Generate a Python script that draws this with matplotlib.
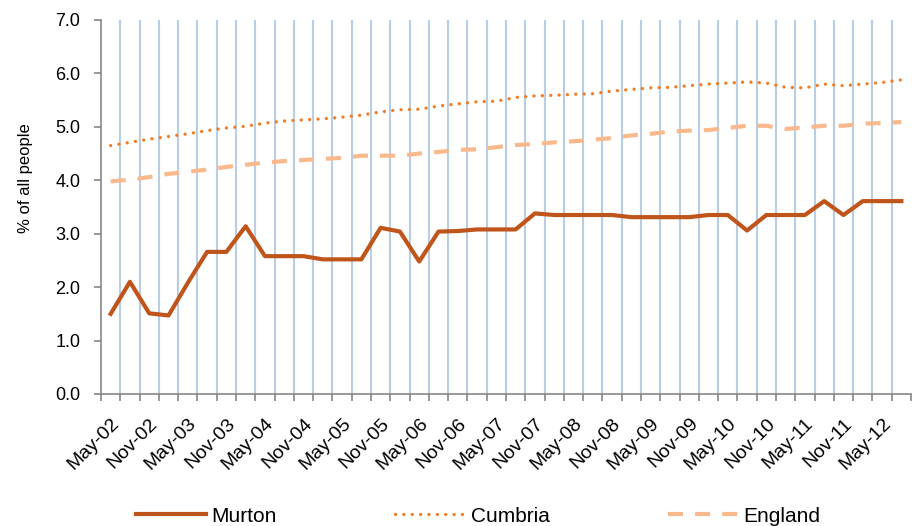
import numpy as np
import matplotlib
matplotlib.use('Agg')
import matplotlib.pyplot as plt

plt.rcParams['font.family'] = ['Liberation Sans', 'DejaVu Sans']

# quarterly, May-02 .. Aug-12
labels = ['May-02', 'Nov-02', 'May-03', 'Nov-03', 'May-04', 'Nov-04', 'May-05',
          'Nov-05', 'May-06', 'Nov-06', 'May-07', 'Nov-07', 'May-08', 'Nov-08',
          'May-09', 'Nov-09', 'May-10', 'Nov-10', 'May-11', 'Nov-11', 'May-12']

murton = [1.50, 2.10, 1.51, 1.47, 2.08, 2.66, 2.66, 3.14, 2.58, 2.58,
          2.58, 2.52, 2.52, 2.52, 3.11, 3.04, 2.48, 3.04, 3.05, 3.08,
          3.08, 3.08, 3.38, 3.35, 3.35, 3.35, 3.35, 3.31, 3.31, 3.31,
          3.31, 3.35, 3.35, 3.06, 3.35, 3.35, 3.35, 3.61, 3.35, 3.61,
          3.61, 3.61]
cumbria = [4.65, 4.71, 4.77, 4.82, 4.87, 4.93, 4.98, 5.01, 5.07, 5.11,
           5.13, 5.15, 5.18, 5.22, 5.28, 5.32, 5.33, 5.39, 5.43, 5.47,
           5.48, 5.55, 5.58, 5.59, 5.61, 5.62, 5.67, 5.70, 5.73, 5.74,
           5.77, 5.80, 5.82, 5.84, 5.82, 5.74, 5.73, 5.80, 5.77, 5.80,
           5.83, 5.88]
england = [3.98, 4.01, 4.06, 4.12, 4.16, 4.20, 4.25, 4.29, 4.33, 4.36,
           4.38, 4.40, 4.42, 4.46, 4.46, 4.46, 4.50, 4.53, 4.57, 4.58,
           4.62, 4.66, 4.68, 4.71, 4.73, 4.76, 4.79, 4.84, 4.87, 4.91,
           4.93, 4.94, 4.98, 5.02, 5.02, 4.96, 4.99, 5.02, 5.02, 5.06,
           5.07, 5.09]

n = len(murton)
x = np.arange(n)

fig = plt.figure(figsize=(9.13, 5.26), dpi=100)
ax = fig.add_axes([101/913, 1-394/526, 810/913, 374/526])

# vertical gridlines between categories
for b in np.arange(0.5, n-0.5, 1):
    ax.axvline(b, color='#B9CDE5', lw=1.5, zorder=0)

ax.plot(x, murton, color='#BF551B', lw=3, label='Murton', zorder=3)
ax.plot(x, cumbria, color='#F47B20', lw=2.4, linestyle=(0, (0.01, 2.5)),
        dash_capstyle='round', label='Cumbria', zorder=3)
ax.plot(x, england, color='#F9B98C', lw=3, linestyle=(0, (3.6, 2.9)),
        label='England', zorder=3)

ax.set_xlim(-0.5, n-0.5)
ax.set_ylim(0, 7)
yt = np.arange(0, 7.1, 1.0)
ax.set_yticks(yt)
ax.set_yticklabels(['%.1f' % v for v in yt], fontsize=13)

ax.set_xticks(np.arange(-0.5, n, 1))
ax.set_xticklabels([])
ax.set_xticks(np.arange(0, n, 2)[:len(labels)], minor=True)
ax.set_xticklabels(labels, minor=True, rotation=45, ha='right',
                   rotation_mode='anchor', fontsize=14)
ax.tick_params(axis='x', which='minor', length=0, pad=15)
ax.tick_params(axis='x', which='major', length=5, color='#868686', width=1.2)
ax.tick_params(axis='y', length=5, color='#868686', width=1.2, pad=10)

for s in ['top', 'right']:
    ax.spines[s].set_visible(False)
for s in ['left', 'bottom']:
    ax.spines[s].set_color('#868686')
    ax.spines[s].set_linewidth(1.2)

ax.set_ylabel('% of all people', fontsize=12)
ax.yaxis.set_label_coords((33-101)/810, (394-178)/374)

fig.legend(loc='center left', bbox_to_anchor=(136/913, 1-516/526), ncol=3,
           frameon=False, fontsize=15, handlelength=3.37, handletextpad=0.24,
           columnspacing=5.7, borderpad=0, borderaxespad=0)

fig.savefig('out.png', dpi=100)
